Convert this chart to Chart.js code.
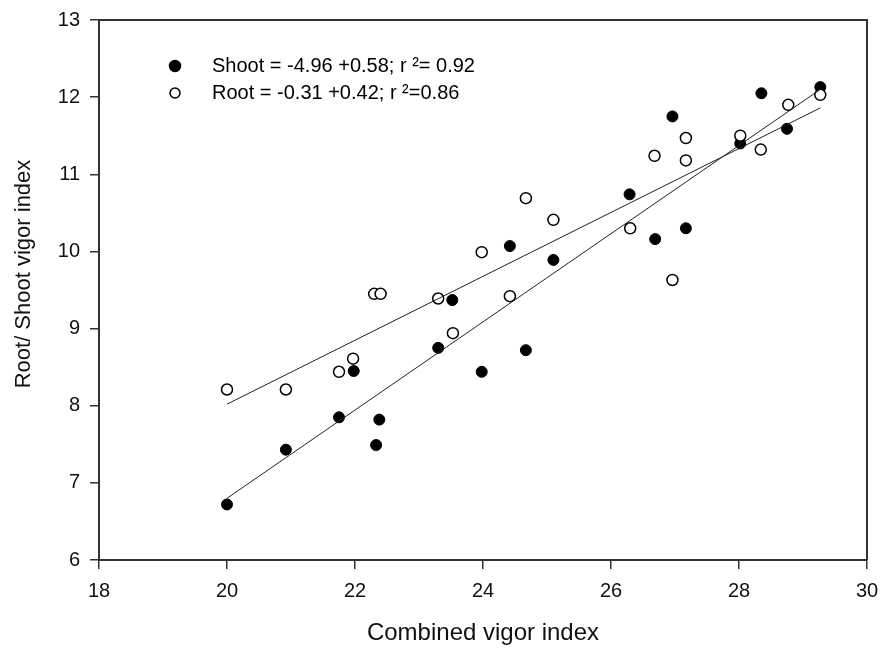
<!DOCTYPE html>
<html lang="en">
<head>
    <meta charset="UTF-8">
    <title>Root/Shoot vigor index</title>
    <script src="https://cdn.jsdelivr.net/npm/chart.js"></script>
    <style>
        body {
            margin: 0;
            padding: 0;
            background: white;
        }
        canvas {
            display: block;
        }
    </style>
</head>
<body>

<canvas id="vigorChart" width="880" height="656"></canvas>

<script>
    // values
    const shootX = [20.0, 20.92, 21.75, 21.98, 22.33, 22.38, 23.30, 23.52, 23.98, 24.42, 24.67, 25.10, 26.29, 26.69, 26.96, 27.17, 28.02, 28.35, 28.75, 29.27];
    const shootY = [6.72, 7.43, 7.85, 8.45, 7.49, 7.82, 8.75, 9.37, 8.44, 10.07, 8.72, 9.89, 10.74, 10.16, 11.75, 10.30, 11.40, 12.05, 11.59, 12.13];
    const rootX = [20.0, 20.92, 21.75, 21.97, 22.30, 22.40, 23.30, 23.53, 23.98, 24.42, 24.67, 25.10, 26.30, 26.68, 26.96, 27.17, 27.17, 28.02, 28.34, 28.77, 29.27];
    const rootY = [8.21, 8.21, 8.44, 8.61, 9.45, 9.45, 9.39, 8.94, 9.99, 9.42, 10.69, 10.41, 10.30, 11.24, 9.63, 11.47, 11.18, 11.50, 11.32, 11.90, 12.03];

    // regression line end points
    const fitX = [20.0, 29.27];
    const shootFitY = [6.80, 12.10];
    const rootFitY = [8.02, 11.86];

    const xTicks = [18, 20, 22, 24, 26, 28, 30];
    const yTicks = [6, 7, 8, 9, 10, 11, 12, 13];

    const legendLabels = ['Shoot = -4.96 +0.58; r \u00b2= 0.92', 'Root = -0.31 +0.42; r \u00b2=0.86'];
    const yTitle = 'Root/ Shoot vigor index';

    const FONT = "'Liberation Sans', Arial, sans-serif";
    const AXIS = '#333';

    function toPoints(xs, ys) {
        return xs.map((x, i) => ({ x: x, y: ys[i] }));
    }

    // box round the plot, y title and the legend in the top left corner
    const framePlugin = {
        id: 'frame',
        afterDraw(chart) {
            const { ctx, chartArea: a } = chart;
            ctx.save();
            ctx.strokeStyle = AXIS;
            ctx.lineWidth = 2;
            ctx.beginPath();
            ctx.moveTo(a.left, a.top);
            ctx.lineTo(a.right, a.top);
            ctx.lineTo(a.right, a.bottom);
            ctx.stroke();

            // y title sits a little above the middle in the original
            ctx.save();
            ctx.translate(24, 274);
            ctx.rotate(-Math.PI / 2);
            ctx.font = '22px ' + FONT;
            ctx.textAlign = 'center';
            ctx.textBaseline = 'middle';
            ctx.fillStyle = '#111';
            ctx.fillText(yTitle, 0, 0);
            ctx.restore();

            const rows = [66, 93];
            ctx.font = '20px ' + FONT;
            ctx.textBaseline = 'middle';
            rows.forEach((y, i) => {
                ctx.beginPath();
                ctx.arc(175, y, i === 0 ? 5.5 : 5, 0, Math.PI * 2);
                ctx.fillStyle = i === 0 ? '#000' : '#fff';
                ctx.fill();
                ctx.lineWidth = 1.5;
                ctx.strokeStyle = '#000';
                ctx.stroke();
                ctx.fillStyle = '#000';
                ctx.fillText(legendLabels[i], 212, y);
            });
            ctx.restore();
        }
    };

    const ctx = document.getElementById('vigorChart').getContext('2d');

    new Chart(ctx, {
        type: 'scatter',
        data: {
            datasets: [
                {
                    label: 'Shoot fit',
                    type: 'line',
                    data: toPoints(fitX, shootFitY),
                    borderColor: '#222',
                    borderWidth: 1,
                    pointRadius: 0,
                    fill: false
                },
                {
                    label: 'Root fit',
                    type: 'line',
                    data: toPoints(fitX, rootFitY),
                    borderColor: '#222',
                    borderWidth: 1,
                    pointRadius: 0,
                    fill: false
                },
                {
                    label: 'Root',
                    data: toPoints(rootX, rootY),
                    backgroundColor: '#fff',
                    borderColor: '#000',
                    borderWidth: 1.5,
                    pointRadius: 5.5
                },
                {
                    label: 'Shoot',
                    data: toPoints(shootX, shootY),
                    backgroundColor: '#000',
                    borderColor: '#000',
                    borderWidth: 1,
                    pointRadius: 5.5
                }
            ]
        },
        options: {
            responsive: false,
            animation: false,
            layout: {
                padding: { left: 0, right: 13, top: 20, bottom: 0 }
            },
            plugins: {
                legend: { display: false },
                tooltip: { enabled: false }
            },
            scales: {
                x: {
                    type: 'linear',
                    min: 18,
                    max: 30,
                    afterBuildTicks: (s) => { s.ticks = xTicks.map(v => ({ value: v })); },
                    afterFit: (s) => {
                        s.height = 96;
                        // the "30" label may hang past the plot edge
                        s.paddingRight = 0;
                        s.paddingLeft = 0;
                    },
                    grid: { drawOnChartArea: false, drawTicks: true, tickLength: 9, color: AXIS, lineWidth: 1.5 },
                    border: { display: true, color: AXIS, width: 2 },
                    ticks: { color: '#111', padding: 10, font: { family: FONT, size: 20 } },
                    title: {
                        display: true,
                        text: 'Combined vigor index',
                        color: '#111',
                        font: { family: FONT, size: 24 },
                        padding: { top: 0, bottom: 8 }
                    }
                },
                y: {
                    type: 'linear',
                    min: 6,
                    max: 13,
                    afterBuildTicks: (s) => { s.ticks = yTicks.map(v => ({ value: v })); },
                    afterFit: (s) => {
                        s.width = 99;
                        s.paddingTop = 0;
                        s.paddingBottom = 0;
                    },
                    grid: { drawOnChartArea: false, drawTicks: true, tickLength: 9, color: AXIS, lineWidth: 1.5 },
                    border: { display: true, color: AXIS, width: 2 },
                    ticks: { color: '#111', padding: 10, font: { family: FONT, size: 20 } }
                }
            }
        },
        plugins: [framePlugin]
    });
</script>

</body>
</html>
